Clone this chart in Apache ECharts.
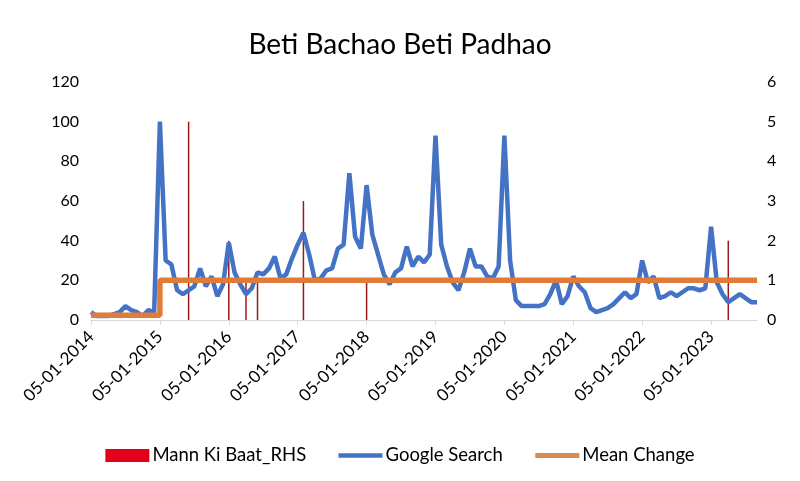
<!DOCTYPE html>
<html><head><meta charset="utf-8">
<script src="https://cdn.jsdelivr.net/npm/echarts@6/dist/echarts.min.js"></script>
<style>html,body{margin:0;padding:0;background:#fff}#c{width:800px;height:481px}</style>
</head><body><div id="c"></div>
<script>
const years = [2014,2015,2016,2017,2018,2019,2020,2021,2022,2023];
const lastMonth2023 = 9;
const tickLabels = ["05-01-2014","05-01-2015","05-01-2016","05-01-2017","05-01-2018","05-01-2019","05-01-2020","05-01-2021","05-01-2022","05-01-2023"];
const googleSearch = [
 4,2,2,2,3,4,7,5,4,2,5,4,
 100,30,28,15,13,15,17,26,17,22,12,18,
 39,24,18,13,16,24,23,26,32,21,23,31,
 38,44,33,20,21,25,26,36,38,74,42,36,
 68,43,33,23,18,24,26,37,27,32,29,33,
 93,38,27,19,15,24,36,27,27,22,21,27,
 93,30,10,7,7,7,7,8,13,20,8,12,
 22,17,14,6,4,5,6,8,11,14,11,13,
 30,19,22,11,12,14,12,14,16,16,15,16,
 47,19,13,9,11,13,11,9,9
];
// Mann Ki Baat episodes (RHS), by month index
const mkbMonths = [17,24,27,29,37,48,111];
const mkbValues = [5,2,1,1,3,1,2];
const meanBefore = 0.12, meanAfter = 1;
const changeIndex = 12;

const cats = [];
years.forEach(y => { const n = y === 2023 ? lastMonth2023 : 12; for (let m = 1; m <= n; m++) cats.push('05-' + String(m).padStart(2,'0') + '-' + y); });
const mkb = cats.map(() => null);
mkbMonths.forEach((i,k) => { mkb[i] = mkbValues[k]; });
const mean = cats.map((_,i) => i < changeIndex ? meanBefore : meanAfter);

const font = 'Lato, "Open Sans", sans-serif';
const chart = echarts.init(document.getElementById('c'), null, {renderer:'canvas'});
chart.setOption({
  animation:false,
  backgroundColor:'#fff',
  title:{text:'Beti Bachao Beti Padhao', left:'center', top:26, textStyle:{fontFamily:font, fontSize:28, fontWeight:'normal', color:'#000'}},
  grid:{left:91, right:43, top:82, bottom:161},
  legend:{top:441, left:'center', itemGap:30, itemWidth:44, itemHeight:13,
    textStyle:{fontFamily:font, fontSize:18.5, color:'#000', padding:[0,0,0,-2]},
    data:[{name:'Mann Ki Baat_RHS', icon:'rect', itemStyle:{color:'#E3001B'}},
          {name:'Google Search', itemStyle:{opacity:0}, lineStyle:{color:'#4472C4', width:4.5}},
          {name:'Mean Change', itemStyle:{opacity:0}, lineStyle:{color:'#D88B4F', width:5}}]},
  xAxis:{type:'category', data:cats, boundaryGap:false,
    axisLine:{lineStyle:{color:'#D9D9D9'}},
    axisTick:{interval:11, length:5, lineStyle:{color:'#D9D9D9'}},
    axisLabel:{interval:11, rotate:45, fontFamily:font, fontSize:17, color:'#000', margin:14}},
  yAxis:[
    {type:'value', min:0, max:120, interval:20, splitLine:{show:false}, axisLine:{show:false}, axisTick:{show:false},
     axisLabel:{fontFamily:font, fontSize:16, color:'#000', margin:12}},
    {type:'value', min:0, max:6, interval:1, splitLine:{show:false}, axisLine:{show:false}, axisTick:{show:false},
     axisLabel:{fontFamily:font, fontSize:16, color:'#000', margin:10}}
  ],
  series:[
    {name:'Mann Ki Baat_RHS', type:'bar', yAxisIndex:1, data:mkb, barWidth:1.5, itemStyle:{color:'#9B1B1B'}, z:1},
    {name:'Google Search', type:'line', yAxisIndex:0, data:googleSearch, symbol:'none', lineStyle:{color:'#4472C4', width:4.5}, itemStyle:{color:'#4472C4'}, z:2},
    {name:'Mean Change', type:'line', yAxisIndex:1, data:mean, step:'end', symbol:'none', lineStyle:{color:'#E07B39', width:5.5}, itemStyle:{color:'#D88B4F'}, z:3}
  ]
});
</script></body></html>
